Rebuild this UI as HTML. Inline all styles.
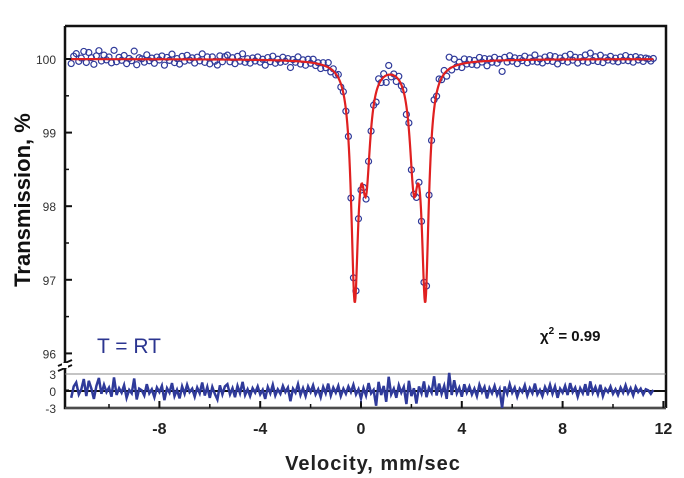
<!DOCTYPE html>
<html><head><meta charset="utf-8"><style>
html,body{margin:0;padding:0;background:#fff;}
svg{display:block;font-family:"Liberation Sans",Arial,sans-serif;}
</style></head><body>
<svg id="chart" width="684" height="478" viewBox="0 0 684 478" xmlns="http://www.w3.org/2000/svg">
<rect x="0" y="0" width="684" height="478" fill="#fff"/>
<g id="axes"></g>
<g id="marks"></g>
<text x="0" y="0" transform="translate(30,200) rotate(-90)" text-anchor="middle" font-size="22" font-weight="bold" fill="#111">Transmission, %</text>
<text x="373" y="470" text-anchor="middle" font-size="20" font-weight="bold" fill="#222" letter-spacing="1">Velocity, mm/sec</text>
<text x="97" y="353" font-size="21" fill="#2b3590">T = RT</text>
<text x="540" y="341" font-size="15" font-weight="bold" fill="#111">χ<tspan font-size="10" dy="-7">2</tspan><tspan dy="7"> = 0.99</tspan></text>
</svg>
<script>
// fit components (Lorentzian lines)
const linePositions = [-0.25, 0.2, 2.1, 2.55];
const lineDepths = [3.05, 1.45, 1.45, 3.05];
const lineHalfWidths = [0.17, 0.2, 0.2, 0.17];
const xTicks = [-8, -4, 0, 4, 8, 12];
const yTicks = [96, 97, 98, 99, 100];
const resTicks = [3, 0, -3];
const velStart = -11.5, velStep = 0.1;
// residuals (hand-read, units of sigma)
const residuals = [
-1.2,0.8,1.5,-0.6,0.3,2.1,-0.9,1.8,0.4,-1.4,0.9,2.3,-0.5,1.1,-0.2,0.6,-1.0,2.4,-0.7,0.5,
-0.3,1.0,-1.2,0.2,-0.4,2.2,-1.5,0.4,0.1,-0.8,1.2,-0.4,0.3,-1.1,0.6,-0.2,0.9,-1.6,0.5,-0.3,
1.4,-0.9,0.2,-1.3,0.8,-0.5,1.1,-0.2,0.4,-1.0,0.6,-0.4,1.5,-0.8,0.7,-1.2,0.7,-0.5,-1.5,1.0,
-0.6,0.8,1.2,-0.6,0.5,-1.1,0.9,-0.4,1.6,-0.7,0.3,-0.9,0.5,-0.3,0.8,-0.6,0.2,-1.4,0.7,-0.4,
1.1,-0.8,0.3,-0.5,0.9,-0.2,0.6,-1.8,0.4,-0.3,1.2,-0.7,0.5,-0.9,0.8,-0.2,1.0,-0.6,0.3,-1.1,
0.7,-0.4,1.3,-0.8,0.6,-0.3,0.9,-0.9,0.4,-0.5,0.8,-0.2,1.1,-0.6,0.3,-1.3,0.5,-0.8,1.4,-0.4,
0.2,-2.6,1.6,-0.7,0.9,-1.9,2.5,-0.6,0.4,-1.2,1.0,-0.3,0.7,-2.3,1.8,-0.9,0.5,-2.2,0.8,-0.4,
1.7,-1.1,0.6,-0.3,2.6,-0.8,1.3,-0.5,0.9,-1.4,3.2,-0.7,1.9,-0.4,0.6,-1.0,1.2,-0.3,0.8,-0.6,
0.4,-0.9,1.1,-0.2,0.7,-1.3,0.5,-0.4,0.9,-0.7,0.3,-3.0,0.8,-0.5,1.2,-0.3,0.6,-1.0,0.4,-0.2,
1.0,-0.8,0.5,-0.4,1.3,-0.6,0.2,-0.9,0.7,-0.3,1.1,-0.5,0.8,-1.2,0.4,-0.3,0.9,-0.7,1.4,-0.2,
0.6,-1.0,0.5,-0.4,1.2,-0.8,1.7,-0.3,0.7,-0.6,1.1,-0.9,0.4,-0.2,0.8,-0.5,0.3,-0.7,0.6,-0.3,
1.0,-0.4,0.5,-0.8,0.7,-0.2,0.4,-0.6,0.3,0.1,-0.5,0.2];
const NS="http://www.w3.org/2000/svg";
const X0=361, XS=25.2;
const xs=v=>X0+v*XS;
const ys=t=>59+(100-t)*73.6;
const rs=r=>391-r*5.67;
function fit(v){let s=100;for(let i=0;i<linePositions.length;i++){const w=lineHalfWidths[i];const d=v-linePositions[i];s-=lineDepths[i]*w*w/(d*d+w*w);}return s;}
function el(tag,attrs,parent){const e=document.createElementNS(NS,tag);for(const k in attrs)e.setAttribute(k,attrs[k]);parent.appendChild(e);return e;}
const axes=document.getElementById('axes'), marks=document.getElementById('marks');
const fr=el('path',{d:'M65,26 H666 V408 M65,26 V408 H666',fill:'none',stroke:'#111','stroke-width':2.5},axes);

for(const r of resTicks){const l=el('line',{x1:65,x2:666,y1:rs(r),y2:rs(r),stroke:r===0?'#111':'#888','stroke-width':r===0?2:1},axes);

const t=el('text',{x:56,y:rs(r)+5,'text-anchor':'end','font-size':12,fill:'#333'},axes);t.textContent=r;
}
const br=el('path',{d:'M58,366 L72,360 M58,371 L72,365',stroke:'#111','stroke-width':2,fill:'none'},axes);

el('rect',{x:62,y:363,width:6,height:5,fill:'#fff'},axes);
for(const t of yTicks){const y=ys(t);el('line',{x1:65,x2:72,y1:y,y2:y,stroke:'#111','stroke-width':2},axes);
el('line',{x1:65,x2:69,y1:y+36.8,y2:y+36.8,stroke:'#111','stroke-width':1.5},axes);
const tx=el('text',{x:56,y:y+5,'text-anchor':'end','font-size':12,fill:'#333'},axes);tx.textContent=t;
}
for(const t of xTicks){const x=xs(t);el('line',{x1:x,x2:x,y1:408,y2:401,stroke:'#111','stroke-width':2},axes);
if(t<12)el('line',{x1:xs(t+2),x2:xs(t+2),y1:408,y2:404,stroke:'#111','stroke-width':1.5},axes);
if(t===-8)el('line',{x1:xs(-10),x2:xs(-10),y1:408,y2:404,stroke:'#111','stroke-width':1.5},axes);
const tx=el('text',{x:x,y:434,'text-anchor':'middle','font-size':16,'font-weight':'bold',fill:'#222'},axes);tx.textContent=t;
}
const gp=el('g',{},marks);
let rp='';
residuals.forEach((r,i)=>{const v=velStart+i*velStep;const t=fit(v)+r*0.05;
const c=el('circle',{cx:xs(v),cy:ys(t),r:3,fill:'none',stroke:'#2f3a9a','stroke-width':1.2},gp);

rp+=(i?'L':'M')+xs(v).toFixed(1)+','+rs(r).toFixed(1);});
let d='';for(let v=-11.5;v<=11.6;v+=0.02){d+=(d?'L':'M')+xs(v).toFixed(2)+','+ys(fit(v)).toFixed(2);}
const fc=el('path',{d:d,fill:'none',stroke:'#e02020','stroke-width':2.2},marks);

const rl=el('path',{d:rp,fill:'none',stroke:'#2f3a9a','stroke-width':2.5},marks);

</script>
</body></html>
